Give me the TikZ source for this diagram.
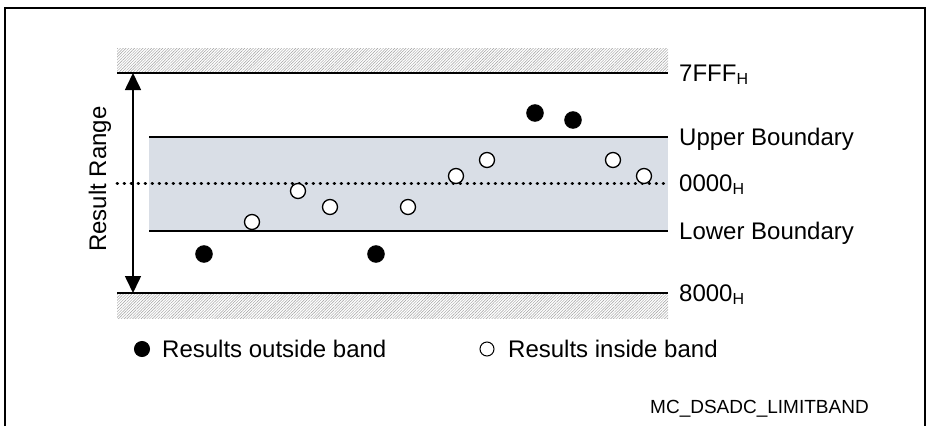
\documentclass[tikz,border=0pt]{standalone}
\usepackage{fontspec}
\setmainfont{Liberation Sans}
\usetikzlibrary{patterns.meta,arrows.meta}
\definecolor{bandfill}{RGB}{217,222,230}
\newcommand\hsub{\raisebox{-3pt}{\fontsize{16}{16}\selectfont H}}
\begin{document}
\begin{tikzpicture}[x=1pt,y=-1pt,
  lbl/.style={font=\fontsize{24}{28}\selectfont, inner sep=0pt, anchor=base west},
  outdot/.style={circle, fill=black, draw=black, line width=1pt, minimum size=16.5pt, inner sep=0pt},
  indot/.style={circle, fill=white, draw=black, line width=1.3pt, minimum size=15pt, inner sep=0pt},
  hatch/.style={pattern={Lines[angle=45,distance=2pt,line width=0.45pt]}, pattern color=gray!75},
  bline/.style={line width=1.7pt},
  rangearrow/.style={line width=1.6pt, {Triangle[length=17pt,width=16pt]}-{Triangle[length=17pt,width=16pt]}},
]
\useasboundingbox (0,0) rectangle (927,426);
\fill[white] (0,0) rectangle (927,426);
\draw[line width=2pt] (5,426) -- (5,8) -- (925,8) -- (925,426);
% hatched limits
\path[hatch] (117,48) rectangle (668,73);
\path[hatch] (117,293) rectangle (668,318);
% band
\fill[bandfill] (149,137) rectangle (668,231);
% lines
\coordinate (tl) at (117,73); \coordinate (tr) at (668,73);
\coordinate (bl) at (117,293); \coordinate (br) at (668,293);
\coordinate (ul) at (149,137); \coordinate (ur) at (668,137);
\coordinate (ll) at (149,231); \coordinate (lr) at (668,231);
\coordinate (zl) at (117,183); \coordinate (zr) at (668,183);
\draw[bline] (tl) -- (tr);
\draw[bline] (bl) -- (br);
\draw[bline] (ul) -- (ur);
\draw[bline] (ll) -- (lr);
\draw[line width=3pt, line cap=round, dash pattern=on 0.6pt off 6.4pt] (zl) -- (zr);
% range arrow
\coordinate (atop) at (133,73); \coordinate (abot) at (133,293);
\draw[rangearrow] (atop) -- (abot);
\node[rotate=90, font=\fontsize{24}{28}\selectfont, inner sep=0pt] (rr) at (100,179) {Result Range};
% labels
\node[lbl] (l7) at (679,81.6) {7FFF\hsub};
\node[lbl] (lu) at (679,145.6) {Upper Boundary};
\node[lbl] (l0) at (679,191.6) {0000\hsub};
\node[lbl] (llb) at (679,239.6) {Lower Boundary};
\node[lbl] (l8) at (679,301.6) {8000\hsub};
% results outside
\node[outdot] (o1) at (204,254) {};
\node[outdot] (o2) at (376,254) {};
\node[outdot] (o3) at (535,113) {};
\node[outdot] (o4) at (573,120) {};
% results inside
\node[indot] (i1) at (252,222) {};
\node[indot] (i2) at (298,191) {};
\node[indot] (i3) at (330,207) {};
\node[indot] (i4) at (408,207) {};
\node[indot] (i5) at (456,176) {};
\node[indot] (i6) at (487,160) {};
\node[indot] (i7) at (613,160) {};
\node[indot] (i8) at (644,176) {};
% legend
\node[outdot, minimum size=15pt] (lo) at (142,349) {};
\node[lbl] (lot) at (162,357.6) {Results outside band};
\node[indot, minimum size=14pt, line width=1pt] (li) at (487,349) {};
\node[lbl] (lit) at (508,357.6) {Results inside band};
\node[font=\fontsize{19}{22}\selectfont, inner sep=0pt, anchor=base west] (mc) at (650,413.5) {MC\_DSADC\_LIMITBAND};
\end{tikzpicture}
\end{document}
